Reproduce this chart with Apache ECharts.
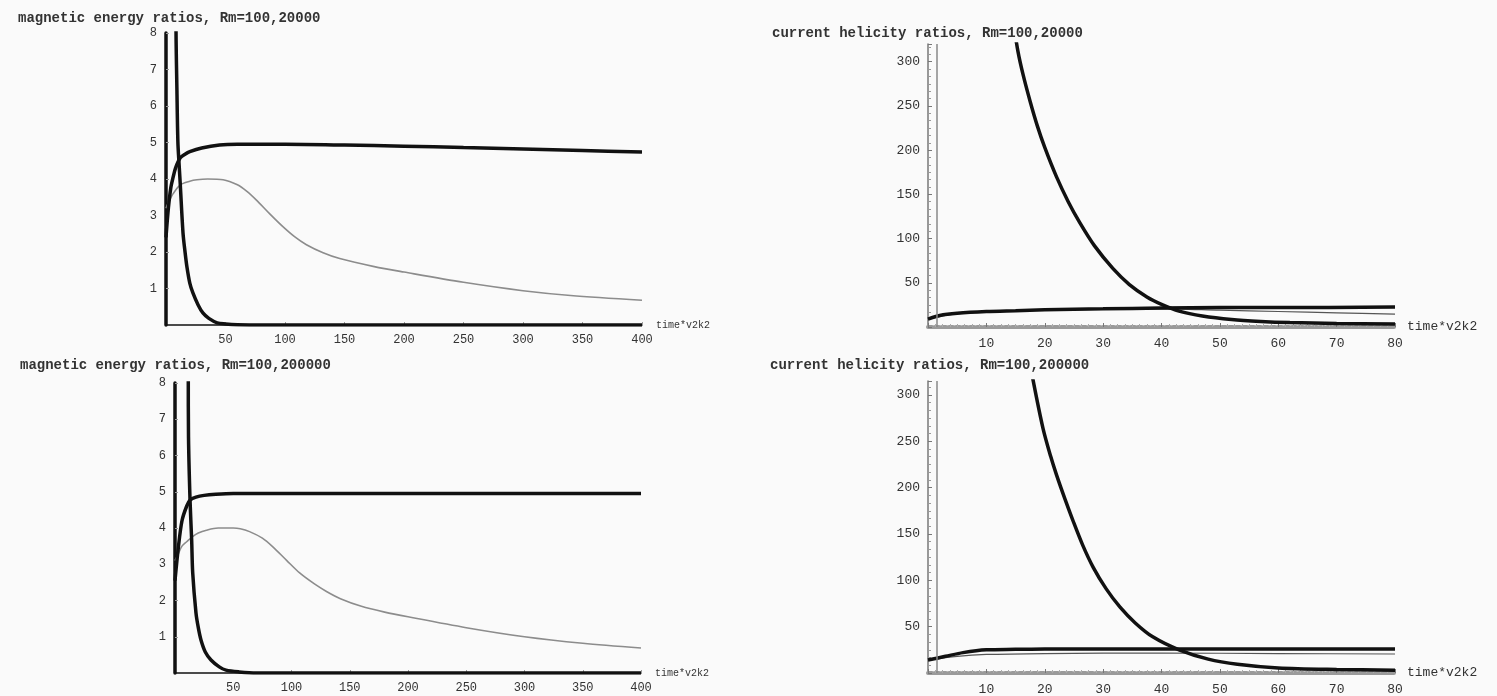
<!DOCTYPE html>
<html>
<head>
<meta charset="utf-8">
<script src="https://cdn.jsdelivr.net/npm/echarts@6/dist/echarts.min.js"></script>
<style>
  html, body { margin: 0; padding: 0; background: #fafafa; }
  #chart { width: 1497px; height: 696px; }
</style>
</head>
<body>
<div id="chart"></div>
<script>
// ---- magnetic energy ratios, Rm=100,20000 ----
const meA_plateauT = [0, 2, 4, 6, 8, 12, 16, 20, 30, 45, 60, 100, 150, 200, 250, 300, 350, 400];
const meA_plateauV = [2.4, 3.2, 3.75, 4.05, 4.3, 4.58, 4.68, 4.75, 4.85, 4.93, 4.95, 4.95, 4.93, 4.9, 4.86, 4.82, 4.78, 4.74];
const meA_decayT = [8.2, 8.4, 9.2, 10, 11, 12, 14.3, 16, 17.6, 20, 22.7, 27, 31, 36, 43, 50, 60, 80, 400];
const meA_decayV = [30, 8.2, 6.4, 5.0, 4.4, 3.85, 2.52, 2.0, 1.59, 1.15, 0.87, 0.55, 0.33, 0.18, 0.06, 0.03, 0.01, 0.0, 0.0];
const meA_greyT = [0, 3, 6, 12, 20, 26, 35, 48, 60, 68, 76, 87, 98, 108, 118, 132, 146, 175, 200, 250, 300, 340, 400];
const meA_greyV = [3.2, 3.42, 3.6, 3.84, 3.94, 3.98, 4.0, 3.98, 3.84, 3.66, 3.42, 3.05, 2.7, 2.42, 2.2, 1.98, 1.82, 1.6, 1.45, 1.17, 0.94, 0.81, 0.68];

// ---- magnetic energy ratios, Rm=100,200000 ----
const meB_plateauT = [0, 3, 6, 10, 13, 18, 25, 35, 50, 100, 400];
const meB_plateauV = [2.55, 3.5, 4.2, 4.6, 4.77, 4.85, 4.9, 4.93, 4.95, 4.95, 4.95];
const meB_decayT = [11.2, 11.4, 11.6, 12.9, 14.3, 15.2, 18, 20, 22.3, 26, 30.9, 38, 43.8, 55, 70, 400];
const meB_decayV = [30, 8.2, 6.5, 4.77, 3.67, 2.76, 1.66, 1.25, 0.91, 0.58, 0.36, 0.17, 0.08, 0.03, 0.0, 0.0];
const meB_greyT = [0, 3, 6, 10, 14.6, 20, 27, 37, 50, 56, 64, 75, 84, 96, 107, 120, 130, 142, 160, 180, 200, 250, 300, 350, 400];
const meB_greyV = [3.1, 3.3, 3.5, 3.62, 3.75, 3.86, 3.94, 4.0, 4.0, 3.98, 3.9, 3.72, 3.48, 3.1, 2.76, 2.45, 2.25, 2.05, 1.84, 1.68, 1.55, 1.25, 1.0, 0.82, 0.69];

// ---- current helicity ratios, Rm=100,20000 ----
const chA_decayT = [14.6, 15.4, 16.3, 17.5, 18.7, 20, 22, 24, 26, 28.5, 31.7, 34.5, 37.5, 40.2, 43, 47, 52, 57, 62, 70, 80];
const chA_decayV = [345, 312, 285, 255, 228, 203, 170, 142, 118, 92, 66, 48, 34, 25, 18, 12.5, 8.5, 6.3, 5, 4, 3.5];
const chA_plateauT = [0, 2, 5, 10, 15, 20, 30, 40, 50, 60, 80];
const chA_plateauV = [9, 13, 15.5, 17.5, 18.5, 19.5, 20.5, 21.5, 22, 22, 22.5];
const chA_thinT = [0, 5, 10, 20, 30, 40, 50, 60, 70, 80];
const chA_thinV = [9, 15, 17, 19, 20, 20.5, 19, 17.5, 16, 14.5];

// ---- current helicity ratios, Rm=100,200000 ----
const chB_decayT = [17.2, 18, 19.7, 21, 22, 23.5, 24.8, 26.5, 28.3, 30.5, 32.9, 35.5, 38.5, 43, 48, 53, 60, 70, 80];
const chB_decayV = [345, 316, 264, 234, 214, 187, 165, 138, 114, 91, 71, 54, 39, 25, 15, 9.5, 5.5, 3.8, 3];
const chB_plateauT = [0, 3, 6, 10, 15, 20, 30, 50, 80];
const chB_plateauV = [14, 18, 22, 25, 25.5, 26, 26, 26, 26];
const chB_thinT = [0, 5, 10, 20, 40, 60, 80];
const chB_thinV = [14, 18, 20, 21, 21.5, 21, 20.5];

// near-origin vertical trace in the helicity panels
const chVerticalT = 1.5;

const titles = [
  'magnetic energy ratios, Rm=100,20000',
  'magnetic energy ratios, Rm=100,200000',
  'current helicity ratios, Rm=100,20000',
  'current helicity ratios, Rm=100,200000'
];
const xName = 'time*v2k2';

const zip = (t, v) => t.map((x, i) => [x, v[i]]);
const FONT = 'Liberation Mono';
const INK = '#111';

const grids = [
  { left: 166, top: 33, width: 476, height: 292 },
  { left: 175, top: 383, width: 466, height: 290 },
  { left: 928, top: 44, width: 467, height: 283 },
  { left: 928, top: 381, width: 467, height: 292 }
];

function leftX(i) {
  return {
    gridIndex: i, type: 'value', min: 0, max: 400, interval: 50,
    name: xName, nameLocation: 'end', nameGap: 14,
    nameTextStyle: { fontFamily: FONT, fontSize: 10, color: '#333', verticalAlign: 'middle' },
    axisLine: { show: true, onZero: false, lineStyle: { color: INK, width: 1.5 } },
    axisTick: { show: true, inside: true, length: 3, lineStyle: { color: '#999' } },
    axisLabel: { showMinLabel: false, margin: 9, fontFamily: FONT, fontSize: 12, color: '#333' },
    splitLine: { show: false }
  };
}
function leftY(i) {
  return {
    gridIndex: i, type: 'value', min: 0, max: 8, interval: 1,
    axisLine: { show: true, onZero: false, lineStyle: { color: INK, width: 3.5 } },
    axisTick: { show: true, inside: true, length: 3, lineStyle: { color: '#999' } },
    axisLabel: { showMinLabel: false, margin: 9, fontFamily: FONT, fontSize: 12, color: '#333' },
    splitLine: { show: false }
  };
}
function rightX(i) {
  return {
    gridIndex: i, type: 'value', min: 0, max: 80, interval: 10,
    name: xName, nameLocation: 'end', nameGap: 12,
    nameTextStyle: { fontFamily: FONT, fontSize: 13, color: '#333', verticalAlign: 'middle' },
    axisLine: { show: true, onZero: false, lineStyle: { color: '#9a9a9a', width: 4, type: [4, 3] } },
    axisTick: { show: true, inside: true, length: 4, lineStyle: { color: '#777' } },
    minorTick: { show: true, splitNumber: 8, length: 3, lineStyle: { color: '#aaa' } },
    axisLabel: { showMinLabel: false, margin: 10, fontFamily: FONT, fontSize: 13, color: '#333' },
    splitLine: { show: false }
  };
}
function rightY(i, max) {
  return {
    gridIndex: i, type: 'value', min: 0, max: max, interval: 50,
    axisLine: { show: true, onZero: false, lineStyle: { color: '#777', width: 1.5 } },
    axisTick: { show: true, inside: true, length: 4, lineStyle: { color: '#777' } },
    minorTick: { show: true, splitNumber: 6, length: 3, lineStyle: { color: '#999' } },
    axisLabel: { showMinLabel: false, showMaxLabel: false, margin: 8, fontFamily: FONT, fontSize: 13, color: '#333' },
    splitLine: { show: false }
  };
}

function line(i, t, v, color, width) {
  return {
    type: 'line', xAxisIndex: i, yAxisIndex: i, data: zip(t, v),
    smooth: 0.3, showSymbol: false, symbol: 'none', clip: true,
    lineStyle: { color: color, width: width }, z: width > 2 ? 3 : 2,
    animation: false
  };
}

function verticalTrace(i) {
  return {
    type: 'line', xAxisIndex: i, yAxisIndex: i, data: [], animation: false,
    markLine: {
      silent: true, symbol: 'none', label: { show: false },
      lineStyle: { color: '#888', width: 1.5, type: 'solid' },
      data: [{ xAxis: chVerticalT }]
    }
  };
}

const titleTops = [[13, 6], [15, 353], [767, 21], [765, 353]];

const option = {
  backgroundColor: '#fafafa',
  animation: false,
  title: titles.map((txt, i) => ({
    text: txt, left: titleTops[i][0], top: titleTops[i][1],
    textStyle: { fontFamily: FONT, fontSize: 14, fontWeight: 'bold', color: '#333' }
  })),
  grid: grids,
  xAxis: [leftX(0), leftX(1), rightX(2), rightX(3)],
  yAxis: [leftY(0), leftY(1), rightY(2, 320), rightY(3, 315)],
  series: [
    line(0, meA_greyT, meA_greyV, '#8c8c8c', 1.6),
    line(0, meA_plateauT, meA_plateauV, INK, 3.5),
    line(0, meA_decayT, meA_decayV, INK, 3.5),
    line(1, meB_greyT, meB_greyV, '#8c8c8c', 1.6),
    line(1, meB_plateauT, meB_plateauV, INK, 3.5),
    line(1, meB_decayT, meB_decayV, INK, 3.5),
    verticalTrace(2),
    line(2, chA_thinT, chA_thinV, '#555', 1.2),
    line(2, chA_plateauT, chA_plateauV, INK, 3.5),
    line(2, chA_decayT, chA_decayV, INK, 3.5),
    verticalTrace(3),
    line(3, chB_thinT, chB_thinV, '#555', 1.2),
    line(3, chB_plateauT, chB_plateauV, INK, 3.5),
    line(3, chB_decayT, chB_decayV, INK, 3.5)
  ]
};

const chart = echarts.init(document.getElementById('chart'), null, { renderer: 'canvas' });
chart.setOption(option);
</script>
</body>
</html>
